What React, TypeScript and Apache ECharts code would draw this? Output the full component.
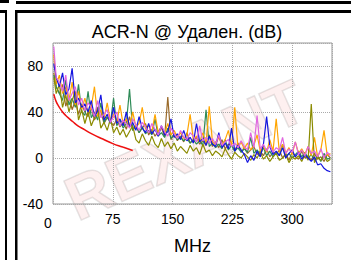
import React, { useEffect, useRef } from "react";
import * as echarts from "echarts";

const freqs = [1, 4, 8, 12, 16, 20, 24, 28, 32, 36, 40, 44, 48, 52, 56, 60, 64, 68, 72, 76, 80, 84, 88, 92, 96, 100, 104, 108, 112, 116, 120, 124, 128, 132, 136, 140, 144, 148, 152, 156, 160, 164, 168, 172, 176, 180, 184, 188, 192, 196, 200, 204, 208, 212, 216, 220, 224, 228, 232, 236, 240, 244, 248, 252, 256, 260, 264, 268, 272, 276, 280, 284, 288, 292, 296, 300, 304, 308, 312, 316, 320, 324, 328, 332, 336, 340, 344, 348];

const pairBlue = [82, 70, 62, 74, 55, 60, 78, 48, 52, 44, 47, 40, 50, 36, 41, 55, 33, 38, 31, 44, 30, 34, 28, 40, 27, 31, 24, 36, 26, 22, 30, 21, 25, 19, 28, 20, 23, 34, 18, 21, 16, 24, 15, 18, 13, 30, 14, 17, 11, 19, 12, 10, 22, 9, 13, 8, 26, 6, 11, 7, 3, -4, 2, -2, 6, 1, 12, 36, 10, 3, 6, 2, 9, 0, 4, 7, 1, 5, -1, 3, 0, -3, 1, -6, -5, -9, -11, -12];
const pairOrange = [90, 64, 72, 56, 62, 50, 66, 46, 58, 42, 52, 39, 44, 62, 36, 42, 34, 48, 32, 38, 31, 46, 29, 34, 28, 40, 27, 30, 44, 25, 28, 23, 38, 22, 26, 21, 30, 20, 24, 18, 22, 17, 20, 38, 16, 19, 14, 22, 13, 45, 14, 12, 18, 11, 16, 24, 10, 44, 9, 14, 8, 13, 7, 11, 20, 6, 10, 5, 16, 6, 34, 5, 12, 4, 9, 3, 14, 4, 8, 3, 10, 2, 18, 1, 7, 24, 2, 4];
const pairGreen = [72, 62, 56, 50, 68, 46, 52, 44, 64, 40, 37, 58, 35, 40, 33, 48, 31, 36, 30, 52, 28, 33, 26, 30, 60, 24, 29, 22, 27, 21, 24, 20, 34, 19, 22, 18, 26, 17, 20, 16, 18, 15, 17, 13, 16, 12, 15, 11, 42, 10, 13, 9, 12, 8, 16, 7, 11, 6, 9, 5, 8, 5, 18, 4, 7, 3, 9, 2, 6, 1, 5, 2, 12, 1, 4, 0, 3, 6, 1, 5, 0, 3, -2, 2, -3, 4, -1, 0];
const pairOlive = [70, 56, 64, 44, 55, 40, 50, 58, 33, 42, 30, 40, 28, 35, 44, 26, 31, 24, 34, 22, 27, 20, 25, 18, 23, 28, 16, 13, 21, 15, 11, 19, 12, 9, 17, 10, 14, 8, 13, 6, 10, 7, 4, 11, 6, 9, 3, 12, 5, 7, 2, 6, 4, 1, 8, 3, -1, 5, 2, 0, 4, 1, -2, 3, 0, 5, -1, 2, -3, 1, 4, -2, 0, 3, -4, 1, -1, 2, -3, 3, -2, 47, -4, 1, -2, 2, -3, -1];
const pairOrchid = [97, 70, 66, 58, 72, 50, 56, 62, 46, 52, 41, 48, 44, 36, 50, 35, 38, 42, 31, 36, 40, 28, 33, 30, 26, 34, 29, 24, 31, 27, 22, 30, 25, 20, 28, 23, 19, 26, 21, 17, 24, 18, 16, 22, 19, 14, 28, 15, 18, 13, 17, 12, 20, 11, 14, 16, 10, 13, 9, 15, 10, 7, 22, 9, 37, 8, 12, 6, 11, 5, 9, 7, 18, 4, 8, 5, 14, 3, 7, 2, 10, 4, 6, 1, 8, 0, 5, 2];
const pairBrown = [74, 62, 56, 64, 45, 54, 42, 50, 38, 47, 40, 36, 44, 33, 38, 41, 30, 35, 32, 28, 34, 27, 31, 25, 36, 24, 28, 22, 26, 30, 20, 25, 19, 23, 27, 18, 53, 16, 21, 15, 19, 14, 22, 13, 16, 18, 12, 15, 11, 20, 10, 14, 9, 16, 8, 12, 11, 6, 13, 5, 9, 4, 7, 10, 3, 6, 2, 8, 1, 5, 3, 7, 0, 4, -2, 5, 1, -1, 6, 0, 2, -2, 4, -1, 1, -3, 3, 0];

const limitFreqs = [1, 4, 8, 12, 16, 20, 25, 31.25, 40, 50, 62.5, 75, 87.5, 100];
const limitValues = [55.5, 49, 44, 40, 37, 34.5, 31.5, 28, 24.5, 20.5, 16.5, 12.5, 9.5, 6.5];

const seriesDefs = [
  { name: "Пара 1", values: pairBrown, color: "#9a6a2a" },
  { name: "Пара 2", values: pairGreen, color: "#2e8b57" },
  { name: "Пара 3", values: pairOrange, color: "#ffa500" },
  { name: "Пара 4", values: pairOlive, color: "#8b8b00" },
  { name: "Пара 5", values: pairBlue, color: "#1515e0" },
  { name: "Пара 6", values: pairOrchid, color: "#e066e0" },
];

const xTicks = [0, 75, 150, 225, 300];
const yTicks = [-40, 0, 40, 80];

export default function App() {
  const ref = useRef<HTMLDivElement>(null);
  useEffect(() => {
    if (!ref.current) return;
    const chart = echarts.init(ref.current, null, { renderer: "svg" });
    const font = "Liberation Sans, Arial, sans-serif";
    const lines = seriesDefs.map((s) => ({
      name: s.name,
      type: "line",
      data: freqs.map((f, i) => [f, s.values[i]]),
      showSymbol: false,
      symbol: "none",
      lineStyle: { width: 1.2, color: s.color },
      itemStyle: { color: s.color },
      z: 3,
    }));
    chart.setOption({
      animation: false,
      backgroundColor: "#ffffff",
      title: {
        text: "ACR-N @ Удален. (dB)",
        left: 182,
        textAlign: "center",
        top: 18,
        textStyle: { fontFamily: font, fontSize: 18, fontWeight: "normal", color: "#000" },
      },
      grid: { left: 53, right: 19, top: 43, bottom: 52, show: true, borderColor: "#999", borderWidth: 1, backgroundColor: "transparent" },
      xAxis: {
        type: "value",
        min: 0,
        max: 350,
        interval: 75,
        name: "MHz",
        nameLocation: "middle",
        nameGap: 33,
        nameTextStyle: { fontFamily: font, fontSize: 18, color: "#000" },
        axisLine: { show: false },
        axisTick: { show: false },
        axisLabel: {
          fontFamily: font,
          fontSize: 14,
          color: "#000",
          margin: 8,
          showMaxLabel: false,
          formatter: (v: number) => (v === 0 ? "{z|0}" : xTicks.includes(v) ? String(v) : ""),
          rich: { z: { fontFamily: font, fontSize: 14, color: "#000", padding: [4, 10, 0, 0] } },
        },
        splitLine: { show: true, lineStyle: { type: "dotted", color: "#aaa", width: 1 } },
      },
      yAxis: {
        type: "value",
        min: -40,
        max: 100,
        interval: 40,
        axisLine: { show: false },
        axisTick: { show: false },
        axisLabel: {
          fontFamily: font,
          fontSize: 14,
          color: "#000",
          margin: 10,
          showMaxLabel: false,
          formatter: (v: number) => (yTicks.includes(v) ? String(v) : ""),
        },
        splitLine: { show: true, lineStyle: { type: "dotted", color: "#aaa", width: 1 } },
      },
      graphic: [
        {
          type: "text",
          x: 185,
          y: 150,
          rotation: 0.42,
          silent: true,
          z: -10,
          style: {
            text: "REXANT",
            fontSize: 62,
            fontWeight: "bold",
            fontFamily: font,
            fill: "rgba(240,60,60,0.08)",
            stroke: "rgba(170,170,170,0.3)",
            lineWidth: 1.5,
            align: "center",
            verticalAlign: "middle",
          },
        },
        { type: "rect", shape: { x: 0, y: 0, width: 9, height: 3 }, style: { fill: "#000" }, z: 10 },
        { type: "rect", shape: { x: 16, y: 1, width: 335, height: 3 }, style: { fill: "#000" }, z: 10 },
        { type: "rect", shape: { x: 0, y: 10, width: 7, height: 3 }, style: { fill: "#000" }, z: 10 },
        { type: "rect", shape: { x: 15, y: 10, width: 336, height: 3 }, style: { fill: "#000" }, z: 10 },
        { type: "rect", shape: { x: 5, y: 10, width: 2, height: 250 }, style: { fill: "#000" }, z: 10 },
        { type: "rect", shape: { x: 15, y: 10, width: 2.5, height: 250 }, style: { fill: "#000" }, z: 10 },
      ],
      series: [
        ...lines,
        {
          name: "Предел",
          type: "line",
          data: limitFreqs.map((f, i) => [f, limitValues[i]]),
          showSymbol: false,
          symbol: "none",
          smooth: true,
          lineStyle: { width: 1.5, color: "#ee1111" },
          z: 4,
        },
      ],
    });
    return () => chart.dispose();
  }, []);
  return <div ref={ref} style={{ width: 351, height: 260, position: "absolute", left: 0, top: 0 }} />;
}
